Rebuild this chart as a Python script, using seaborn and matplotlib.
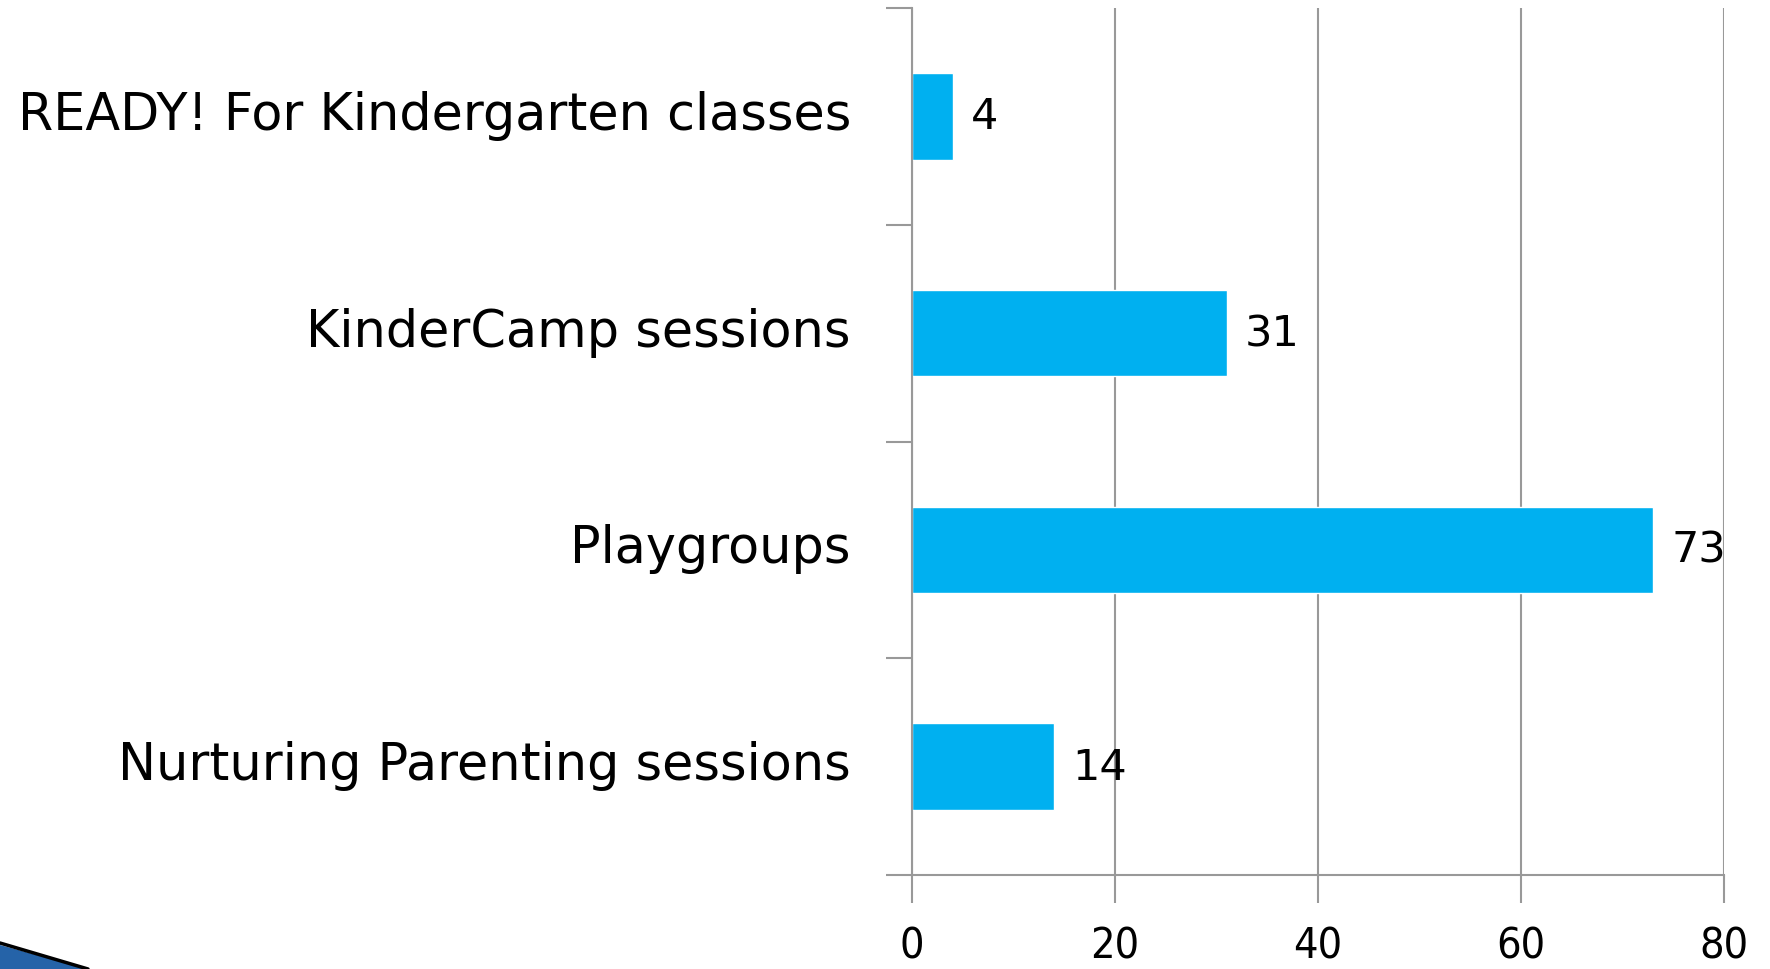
import matplotlib
matplotlib.use("Agg")
import matplotlib.pyplot as plt
import matplotlib.transforms as mtransforms
import seaborn as sns
import pandas as pd
import numpy as np
from matplotlib.patches import Polygon

categories = ["READY! For Kindergarten classes", "KinderCamp sessions", "Playgroups", "Nurturing Parenting sessions"]
values = [4, 31, 73, 14]
x_ticks = [0, 20, 40, 60, 80]

df = pd.DataFrame({"category": categories, "value": values})

sns.set_theme(style="white")
plt.rcParams['font.family'] = ['DejaVu Sans']
plt.rcParams['xtick.bottom'] = True
plt.rcParams['ytick.left'] = True

fig = plt.figure(figsize=(17.7, 9.7), dpi=100)
ax = fig.add_axes([912/1770, 1-876/970, (1724-912)/1770, (876-9)/970])

sns.barplot(data=df, x="value", y="category", orient="h", color="#00B0F0",
            saturation=1, width=0.4, ax=ax)

ax.set_xlim(0, 80)
ax.set_ylim(len(categories)-0.5, -0.5)
ax.set_xticks(x_ticks)
ax.set_xticklabels([str(t) for t in x_ticks], fontsize=31, stretch="condensed", color="black")
ax.set_xlabel("")
ax.set_ylabel("")
ax.xaxis.grid(True, color="#999999", linewidth=1.5)
ax.set_axisbelow(True)
ax.tick_params(axis="x", direction="out", length=20, width=1.5, color="#999999", pad=16,
               bottom=True)
ax.tick_params(axis="y", which="major", length=0, pad=44, labelsize=36.6, labelcolor="black")
ax.set_yticks(np.arange(-0.5, len(categories), 1.0), minor=True)
ax.tick_params(axis="y", which="minor", direction="out", length=19, width=1.5, color="#999999",
               left=True)

shift = mtransforms.ScaledTranslation(0, 7/100, fig.dpi_scale_trans)
for lab in ax.get_yticklabels():
    lab.set_transform(lab.get_transform() + shift)

for s in ["top", "right"]:
    ax.spines[s].set_visible(False)
for s in ["left", "bottom"]:
    ax.spines[s].set_color("#999999")
    ax.spines[s].set_linewidth(1.5)

for i, v in enumerate(values):
    ax.text(v + 1.8, i, str(v), va="center", ha="left", fontsize=31, color="black")

# decorative swoosh bottom-left
fig.patches.append(Polygon([[0, 1-946/970], [88/1770, 0], [0, 0]],
                           closed=True, transform=fig.transFigure,
                           facecolor="#2563A8", edgecolor="none"))
fig.lines.append(plt.Line2D([0, 88/1770], [1-944/970, 0], transform=fig.transFigure,
                            color="black", linewidth=2.5))

fig.savefig("out.png", dpi=100)
